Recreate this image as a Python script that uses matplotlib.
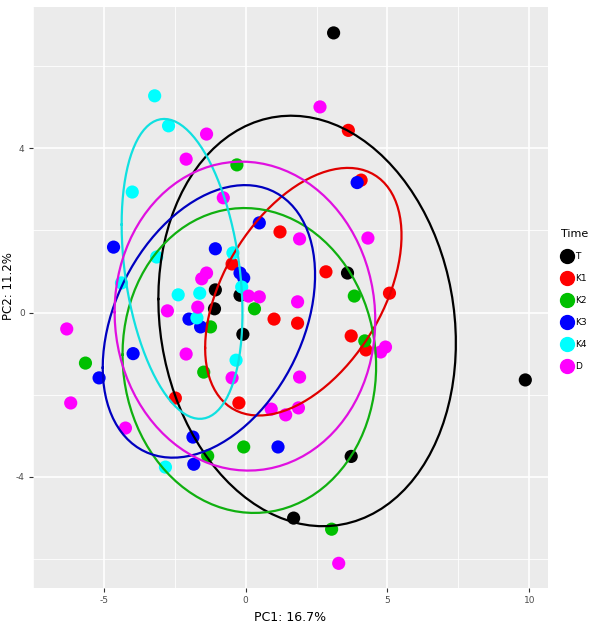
import numpy as np
import matplotlib
matplotlib.use("Agg")
import matplotlib.pyplot as plt
from matplotlib.lines import Line2D

plt.rcParams["axes.unicode_minus"] = False

# PCA scores, one pair of lists per group
t_x = [3.10, 9.86, 3.59, 3.72, 1.69, -1.07, -1.10, -0.10, -0.20]
t_y = [6.80, -1.64, 0.96, -3.50, -5.00, 0.55, 0.09, -0.53, 0.42]

k1_x = [3.62, 4.07, 1.21, 2.83, 5.07, -0.48, 1.00, 1.83, -0.24, -2.48, 3.72, 4.24]
k1_y = [4.43, 3.22, 1.96, 0.99, 0.47, 1.18, -0.16, -0.26, -2.20, -2.08, -0.57, -0.91]

k2_x = [-0.31, 0.31, 3.83, 4.20, -1.24, -5.65, -1.48, -0.07, -1.34, 3.03]
k2_y = [3.59, 0.09, 0.40, -0.69, -0.35, -1.23, -1.45, -3.27, -3.49, -5.27]

k3_x = [3.93, 0.48, -1.07, -4.66, -0.20, -0.07, -3.97, -5.17, -2.00, -1.59, -1.86, -1.83, 1.14]
k3_y = [3.16, 2.18, 1.55, 1.59, 0.96, 0.84, -1.00, -1.59, -0.16, -0.35, -3.03, -3.69, -3.27]

k4_x = [-3.21, -2.72, -4.00, -3.14, -4.38, -0.45, -2.38, -1.62, -0.14, -1.72, -0.34, -2.83]
k4_y = [5.27, 4.54, 2.93, 1.35, 0.72, 1.45, 0.43, 0.47, 0.62, -0.13, -1.16, -3.76]

d_x = [2.62, -1.38, -2.10, -0.79, 1.90, 4.31, -1.55, -1.38, -1.69, -2.76, 0.10, 0.48,
       1.83, -6.31, -6.17, -4.24, -2.10, -0.48, 1.90, 0.90, 1.41, 1.86, 4.93, 4.76, 3.28]
d_y = [5.00, 4.34, 3.73, 2.79, 1.79, 1.81, 0.82, 0.96, 0.13, 0.04, 0.40, 0.38,
       0.26, -0.40, -2.20, -2.81, -1.01, -1.59, -1.57, -2.35, -2.49, -2.32, -0.84, -0.96, -6.10]

labels = ["T", "K1", "K2", "K3", "K4", "D"]
colors = ["black", "#ff0000", "#00c000", "#0000ff", "#00ffff", "#ff00ff"]
line_colors = ["black", "#e00000", "#10b010", "#0000c0", "#10e0e0", "#e010e0"]


def ellipse(xs, ys, prob=0.68):
    # normal-theory ellipse, as ggbiplot draws it
    sigma = np.cov(xs, ys)
    mu = np.array([np.mean(xs), np.mean(ys)])
    ed = np.sqrt(-2 * np.log(1 - prob))  # qchisq(prob, df=2)
    theta = np.linspace(-np.pi, np.pi, 100)
    circle = np.column_stack([np.cos(theta), np.sin(theta)])
    chol = np.linalg.cholesky(sigma).T
    e = circle @ chol * ed + mu
    return e[:, 0], e[:, 1]


groups = [(t_x, t_y), (k1_x, k1_y), (k2_x, k2_y), (k3_x, k3_y), (k4_x, k4_y), (d_x, d_y)]

fig = plt.figure(figsize=(6.15, 6.31), dpi=100)
ax = fig.add_axes([33 / 615, 43 / 631, 515 / 615, 581 / 631])
ax.set_facecolor("#ebebeb")

for (xs, ys), c in zip(groups, colors):
    ax.scatter(xs, ys, s=90, color=c, edgecolors="none", zorder=3)

for (xs, ys), c in zip(groups, line_colors):
    ex, ey = ellipse(xs, ys)
    ax.plot(ex, ey, color=c, lw=1.6, zorder=4)

ax.set_xlim(-7.1, 10.66)
ax.set_ylim(-6.70, 7.43)
ax.set_xticks([-5, 0, 5, 10])
ax.set_yticks([-4, 0, 4])
ax.set_xticks([-7.5, -2.5, 2.5, 7.5], minor=True)
ax.set_yticks([-6, -2, 2, 6], minor=True)
ax.grid(which="major", color="white", lw=1.2)
ax.grid(which="minor", color="white", lw=0.6)
ax.set_axisbelow(True)
for sp in ax.spines.values():
    sp.set_visible(False)
ax.tick_params(which="major", length=3, width=0.8, color="#333333",
               labelsize=6.5, labelcolor="#4d4d4d", pad=3)
ax.tick_params(which="minor", length=0)
ax.set_xlabel("PC1: 16.7%", fontsize=9, labelpad=4)
ax.set_ylabel("PC2: 11.2%", fontsize=8.5, va="center")
ax.yaxis.set_label_coords(-24 / 515, 0.52)

handles = [Line2D([], [], marker="o", ls="none", color=c, markersize=10) for c in colors]
leg = fig.legend(handles, labels, title="Time", loc="center left",
                 bbox_to_anchor=(557 / 615, 1 - 300 / 631), frameon=False,
                 fontsize=6.5, title_fontsize=8, handletextpad=0.1,
                 labelspacing=1.45, handlelength=1.5, borderaxespad=0)
leg._legend_box.align = "left"

fig.savefig("out.png", dpi=100)
